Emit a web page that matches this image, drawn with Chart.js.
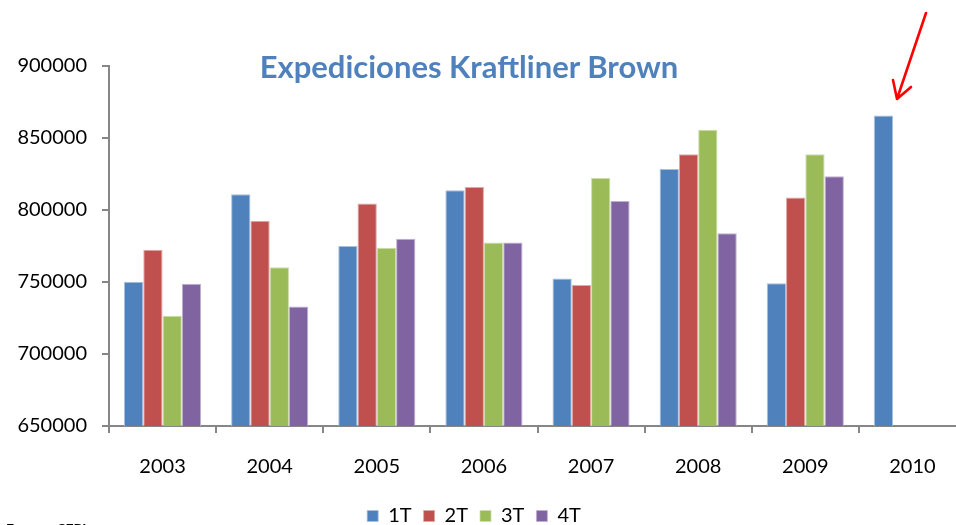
<!DOCTYPE html>
<html lang="es">
<head>
  <meta charset="UTF-8" />
  <title>Expediciones Kraftliner Brown</title>
  <script src="https://cdn.jsdelivr.net/npm/chart.js"></script>
  <style>
    html, body { margin: 0; padding: 0; background: #fff; overflow: hidden; }
    #wrap { position: relative; width: 956px; height: 525px; overflow: hidden; }
    #box { position: absolute; left: -18px; top: 0; width: 993px; height: 536px; }
    #title { position: absolute; left: 0; width: 938px; top: 47px; text-align: center;
             font: bold 31px Lato, sans-serif; color: #4F81BD; white-space: nowrap; }
    #source { position: absolute; left: 6px; top: 520px; font: bold 14px Lato, sans-serif; color: #000; }
  </style>
</head>
<body>
<div id="wrap">
  <div id="box"><canvas id="chart" width="993" height="536"></canvas></div>
  <div id="title">Expediciones Kraftliner Brown</div>
  <div id="source">Fuente: CEPI</div>
</div>

<script>
  // data
  const years = ['2003', '2004', '2005', '2006', '2007', '2008', '2009', '2010'];
  const t1 = [750200, 810900, 775000, 813700, 752500, 828500, 749100, 865700];
  const t2 = [772400, 792600, 804600, 816000, 747900, 838700, 808600, null];
  const t3 = [726600, 760200, 773800, 777500, 822200, 855800, 838700, null];
  const t4 = [748800, 732900, 780100, 777500, 806300, 783800, 823400, null];
  const yTicks = [650000, 700000, 750000, 800000, 850000, 900000];

  const axisGrey = '#868686';
  const font = { family: 'Lato, sans-serif', size: 20 };
  const OFF = 18; // canvas is shifted left so the legend sits where it should

  // red arrow pointing at the 2010 bar
  const arrowPlugin = {
    id: 'arrow',
    afterDraw(chart) {
      const ctx = chart.ctx;
      ctx.save();
      ctx.translate(OFF, 0);
      ctx.strokeStyle = '#FF0000';
      ctx.lineWidth = 2.6;
      ctx.lineCap = 'round';
      ctx.lineJoin = 'round';
      ctx.beginPath();
      ctx.moveTo(926, 13);
      ctx.lineTo(897, 99);
      ctx.moveTo(893, 80);
      ctx.lineTo(897, 99);
      ctx.lineTo(911, 87);
      ctx.stroke();
      ctx.restore();
    }
  };

  function ds(label, data, color, edge) {
    return {
      label: label,
      data: data,
      backgroundColor: color,
      borderColor: edge,
      borderWidth: { top: 1, left: 1, right: 1, bottom: 0 },
      borderSkipped: 'bottom'
    };
  }

  new Chart(document.getElementById('chart'), {
    type: 'bar',
    data: {
      labels: years,
      datasets: [
        ds('1T', t1, '#4F81BD', '#A7C0DE'),
        ds('2T', t2, '#C0504D', '#E0A8A6'),
        ds('3T', t3, '#9BBB59', '#CDDDAC'),
        ds('4T', t4, '#8064A2', '#BFB1D0')
      ]
    },
    options: {
      responsive: false,
      animation: false,
      categoryPercentage: 0.72,
      barPercentage: 1.0,
      layout: { padding: { top: 66, right: 9, left: 0, bottom: 0 } },
      plugins: {
        title: { display: false },
        tooltip: { enabled: false },
        legend: {
          position: 'bottom',
          labels: {
            boxWidth: 11,
            boxHeight: 11,
            padding: 12,
            color: '#000',
            font: font
          }
        }
      },
      scales: {
        x: {
          grid: { drawOnChartArea: false, drawTicks: true, tickLength: 7, color: axisGrey, lineWidth: 2 },
          border: { color: axisGrey, width: 2 },
          ticks: { color: '#000', font: font, padding: 22 },
          afterFit: s => { s.height = 68; }
        },
        y: {
          min: 650000,
          max: 900000,
          afterBuildTicks: s => { s.ticks = yTicks.map(v => ({ value: v })); },
          grid: { drawOnChartArea: false, drawTicks: true, tickLength: 7, color: axisGrey, lineWidth: 2 },
          border: { color: axisGrey, width: 2 },
          ticks: { color: '#000', font: font, padding: 15, callback: v => String(v) },
          afterFit: s => { s.width = 109 + OFF; }
        }
      }
    },
    plugins: [arrowPlugin]
  });
</script>
</body>
</html>
